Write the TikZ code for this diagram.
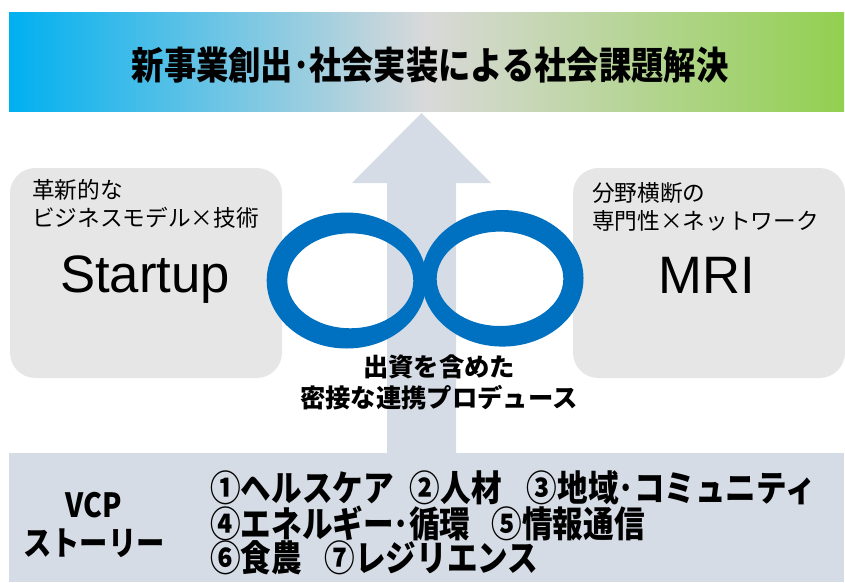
\documentclass[tikz,border=0pt]{standalone}
\usepackage{fontspec}
\setmainfont{Noto Sans CJK JP}
\newfontfamily\cond{Noto Sans CJK JP}[FakeStretch=0.85]
\newfontfamily\lat{Liberation Sans}
\usetikzlibrary{shapes.geometric}
\definecolor{cyanL}{RGB}{0,176,240}
\definecolor{greyM}{RGB}{217,217,217}
\definecolor{greenR}{RGB}{146,208,80}
\definecolor{boxg}{RGB}{230,230,230}
\definecolor{bluegrey}{RGB}{214,220,229}
\definecolor{infblue}{RGB}{0,112,192}
\tikzset{
  banner/.style={rectangle, inner sep=0, left color=cyanL, right color=greenR, middle color=greyM,
    minimum width=626.25pt, minimum height=74.25pt},
  card/.style={rectangle, rounded corners=19pt, fill=boxg, inner sep=0,
    minimum width=204pt, minimum height=157.5pt},
  band/.style={rectangle, fill=bluegrey, inner sep=0, minimum width=626.25pt, minimum height=96.75pt},
  ring/.style={fill=infblue, even odd rule},
  small/.style={inner sep=0, anchor=west, font=\fontsize{17}{20}\selectfont},
  big/.style={inner sep=0, anchor=base, font=\lat\fontsize{39.5}{44}\selectfont},
  mid/.style={inner sep=0, font=\bfseries\fontsize{19}{22}\selectfont},
  story/.style={inner sep=0, anchor=west, font=\cond\bfseries\fontsize{27}{28}\selectfont},
}
\begin{document}
\begin{tikzpicture}[x=0.75pt,y=-0.75pt]
\useasboundingbox (0,0) rectangle (845,582);
% banner
\node[banner] (goal) at (426.5,61.5) {};
\node[inner sep=0, font=\cond\bfseries\fontsize{28.5}{30}\selectfont] (goaltxt) at (430,65) {新事業創出･社会実装による社会課題解決};
% bottom band
\node[band] (vcp) at (426.5,517.5) {};
% arrow
\fill[bluegrey] (387,453) -- (387,183) -- (352,183) -- (421.5,113) -- (491,183) -- (456,183) -- (456,453) -- cycle;
% cards
\node[card] (startup) at (146,273) {};
\node[card] (mri) at (709,273) {};
\node[small] (s1) at (32,190) {革新的な};
\node[small] (s2) at (32,218) {ビジネスモデル×技術};
\node[big] (s3) at (145,292) {Startup};
\node[small] (m1) at (592,193) {分野横断の};
\node[small] (m2) at (592,221) {専門性×ネットワーク};
\node[big] (m3) at (706.5,293) {MRI};
% infinity loops
\fill[ring] (346.7,280.5) ellipse[x radius=60pt, y radius=51pt]
            (350.3,280.8) ellipse[x radius=47.25pt, y radius=35.6pt];
\fill[ring] (502.5,278.3) ellipse[x radius=60.75pt, y radius=51.2pt]
            (500,278.8) ellipse[x radius=47.5pt, y radius=35.4pt];
% middle text
\node[mid] (c1) at (439,367) {出資を含めた};
\node[mid] (c2) at (439,398) {密接な連携プロデュース};
% story
\node[inner sep=0, font=\cond\bfseries\fontsize{25}{28}\selectfont] (v1) at (94,505) {VCP};
\node[inner sep=0, font=\cond\bfseries\fontsize{25}{28}\selectfont] (v2) at (94,543) {ストーリー};
\node[story] (l1) at (210,488) {①ヘルスケア\hspace{12pt}②人材\hspace{19pt}③地域･コミュニティ};
\node[story] (l2) at (210,523) {④エネルギー･循環\hspace{16pt}⑤情報通信};
\node[story] (l3) at (210,558) {⑥食農\hspace{17pt}⑦レジリエンス};
\end{tikzpicture}
\end{document}
